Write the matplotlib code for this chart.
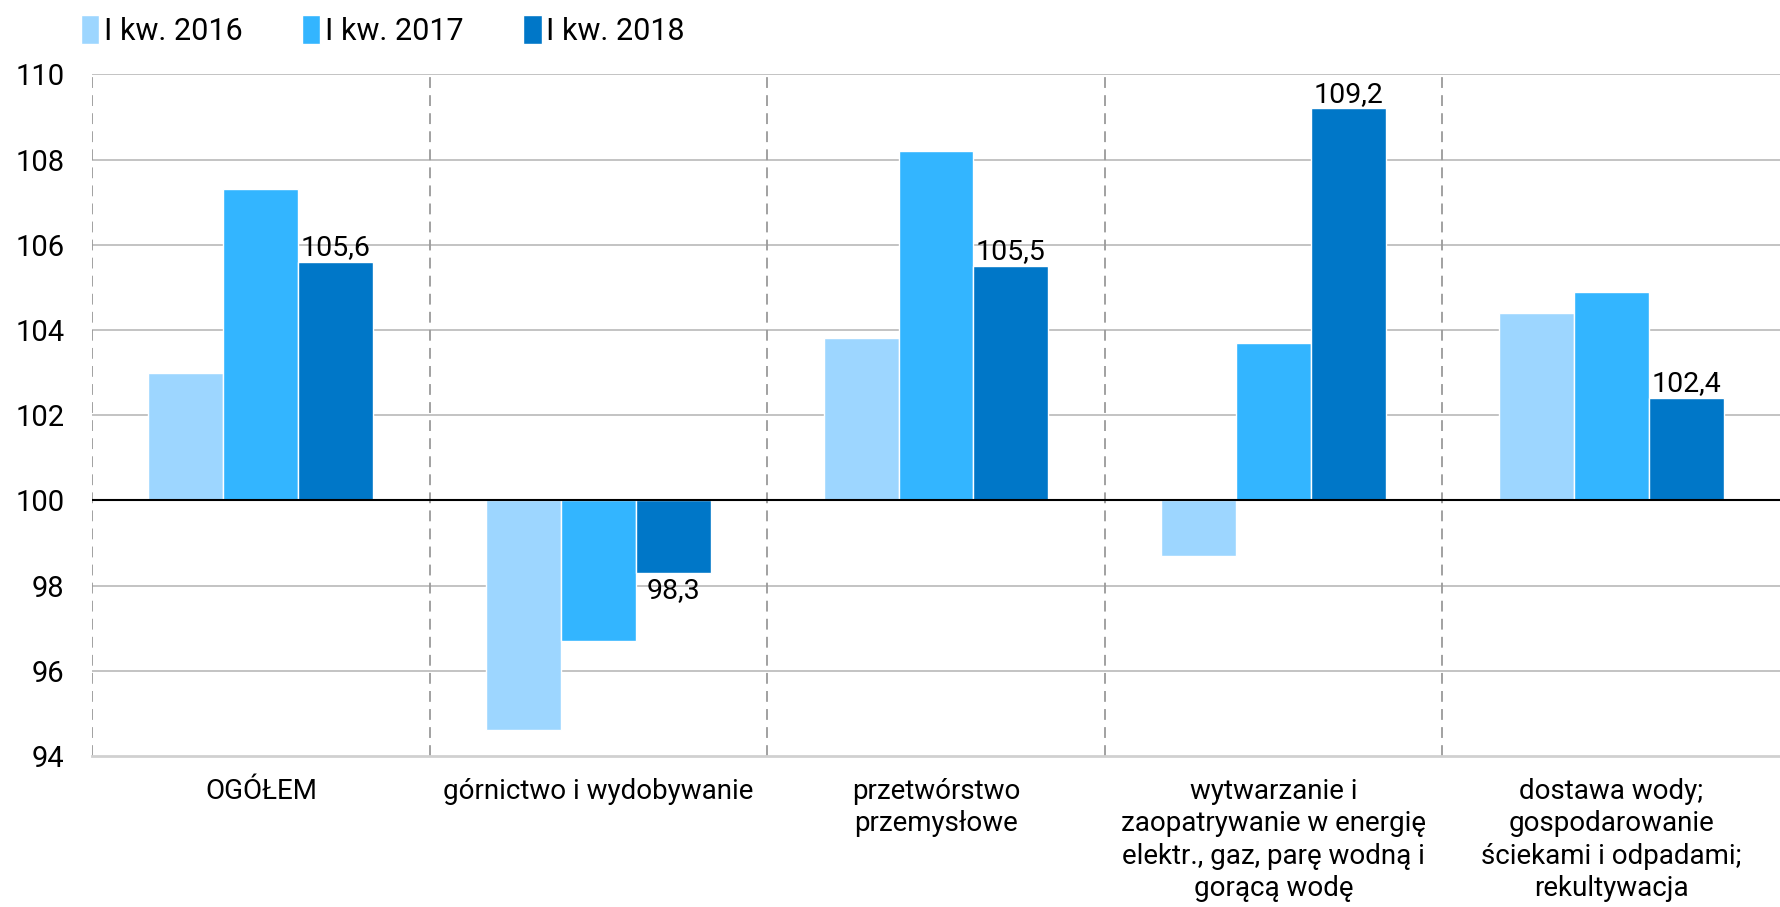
import matplotlib
matplotlib.use('Agg')
import matplotlib.pyplot as plt
import numpy as np

categories = ["OGÓŁEM",
              "górnictwo i wydobywanie",
              "przetwórstwo\nprzemysłowe",
              "wytwarzanie i\nzaopatrywanie w energię\nelektr., gaz, parę wodną i\ngorącą wodę",
              "dostawa wody;\ngospodarowanie\nściekami i odpadami;\nrekultywacja"]
series_names = ["I kw. 2016", "I kw. 2017", "I kw. 2018"]
q1_2016 = [103.0, 94.6, 103.8, 98.7, 104.4]
q1_2017 = [107.3, 96.7, 108.2, 103.7, 104.9]
q1_2018 = [105.6, 98.3, 105.5, 109.2, 102.4]
labels_2018 = ["105,6", "98,3", "105,5", "109,2", "102,4"]
yticks = [94, 96, 98, 100, 102, 104, 106, 108, 110]

colors = ["#9DD6FF", "#33B5FF", "#0077C8"]
base = 100

plt.rcParams['font.family'] = ['Roboto', 'DejaVu Sans']
plt.rcParams['font.size'] = 20

fig = plt.figure(figsize=(17.8, 9.07), dpi=100)
ax = fig.add_axes([0.0517, 0.1665, 0.9483, 0.7515])

x = np.arange(len(categories))
w = 0.222
series = [q1_2016, q1_2017, q1_2018]
bars = []
for i, vals in enumerate(series):
    h = [v - base for v in vals]
    b = ax.bar(x + (i - 1) * w, h, w, bottom=base, color=colors[i],
               edgecolor="white", linewidth=1, label=series_names[i], zorder=3)
    bars.append(b)

for xi, v, lab in zip(x, q1_2018, labels_2018):
    if v >= base:
        ax.text(xi + w, v + 0.02, lab, ha="center", va="bottom", fontsize=20.5, zorder=4)
    else:
        ax.text(xi + w, v - 0.1, lab, ha="center", va="top", fontsize=20.5, zorder=4)

ax.set_xlim(-0.5, len(categories) - 0.5)
ax.set_ylim(94, 110)
ax.set_yticks(yticks)
ax.set_yticklabels([str(t) for t in yticks], fontsize=21)
ax.set_xticks(x)
ax.set_xticklabels(categories, linespacing=1.25)
ax.tick_params(axis="both", length=0)
ax.tick_params(axis="y", pad=20)
ax.tick_params(axis="x", pad=16)

for t in yticks:
    if t == base:
        ax.axhline(t, color="black", lw=1.5, zorder=4)
    elif t > 94:
        ax.axhline(t, color="#BEBEBE", lw=1.3, zorder=1)

for sep in np.arange(-0.5, len(categories) - 0.5, 1.0):
    ax.axvline(sep, color="#9A9A9A", lw=1.3, linestyle=(0, (6, 4)), zorder=1)

for s in ["left", "right", "top"]:
    ax.spines[s].set_visible(False)
ax.spines["bottom"].set_color("#D0D0D0")
ax.spines["bottom"].set_linewidth(2)

fig.legend(handles=bars, labels=series_names, loc="upper left",
           bbox_to_anchor=(0.030, 1.014), ncol=3, frameon=False,
           handlelength=0.6, handleheight=1.1, handletextpad=0.15,
           columnspacing=1.95, fontsize=22)

fig.savefig("out.png", dpi=100)
